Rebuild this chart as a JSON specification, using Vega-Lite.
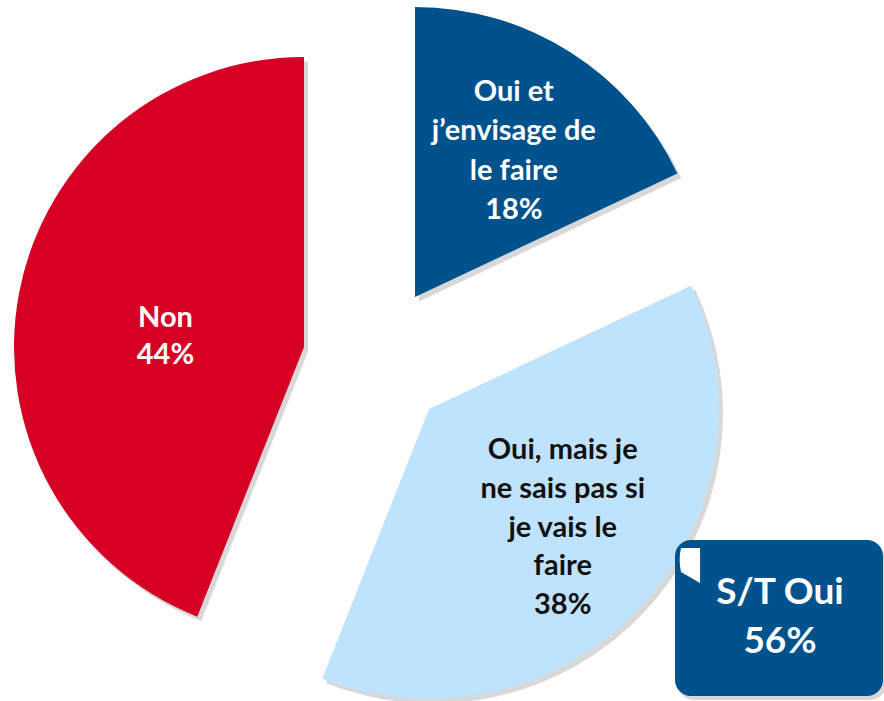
{
  "$schema": "https://vega.github.io/schema/vega-lite/v6.json",
  "width": 884,
  "height": 701,
  "autosize": {"type": "fit", "contains": "padding"},
  "padding": 0,
  "background": "white",
  "view": {"stroke": null},
  "config": {"text": {"font": "Lato", "fontWeight": "bold"}},
  "data": {
    "values": [
      {"reponse": "Oui et\nj’envisage de\nle faire", "pct": 18, "order": 1},
      {"reponse": "Oui, mais je\nne sais pas si\nje vais le\nfaire", "pct": 38, "order": 2},
      {"reponse": "Non", "pct": 44, "order": 3}
    ]
  },
  "transform": [
    {"window": [{"op": "sum", "field": "pct", "as": "end"}], "sort": [{"field": "order"}], "frame": [null, 0]},
    {"calculate": "datum.end - datum.pct", "as": "start"},
    {"calculate": "(datum.start + datum.end) / 2", "as": "mid"},
    {"calculate": "datum.reponse + '\\n' + datum.pct + '%'", "as": "label"}
  ],
  "encoding": {
    "theta": {"field": "start", "type": "quantitative", "scale": {"domain": [0, 100], "zero": true}},
    "theta2": {"field": "end"}
  },
  "layer": [
    {
      "transform": [{"filter": "datum.order == 1"}],
      "layer": [
        {"mark": {"type": "arc", "outerRadius": 290, "xOffset": -22, "yOffset": -46, "fill": "#7f7f7f", "opacity": 0.3}},
        {"mark": {"type": "arc", "outerRadius": 290, "xOffset": -26, "yOffset": -50.5},
         "encoding": {"color": {"field": "reponse", "type": "nominal", "legend": null,
           "scale": {"domain": ["Oui et\nj’envisage de\nle faire", "Oui, mais je\nne sais pas si\nje vais le\nfaire", "Non"], "range": ["#00528C", "#BFE3FC", "#D50024"]}}}}
      ]
    },
    {
      "transform": [{"filter": "datum.order == 2"}],
      "layer": [
        {"mark": {"type": "arc", "outerRadius": 290, "xOffset": -8, "yOffset": 66, "fill": "#7f7f7f", "opacity": 0.3}},
        {"mark": {"type": "arc", "outerRadius": 290, "xOffset": -12, "yOffset": 61.5},
         "encoding": {"color": {"field": "reponse", "type": "nominal", "legend": null}}}
      ]
    },
    {
      "transform": [{"filter": "datum.order == 3"}],
      "layer": [
        {"mark": {"type": "arc", "outerRadius": 290, "xOffset": -133, "yOffset": 4, "fill": "#7f7f7f", "opacity": 0.3}},
        {"mark": {"type": "arc", "outerRadius": 290, "xOffset": -137, "yOffset": -0.5},
         "encoding": {"color": {"field": "reponse", "type": "nominal", "legend": null}}}
      ]
    },
    {
      "transform": [{"filter": "datum.order == 1"}],
      "mark": {"type": "text", "xOffset": -26, "yOffset": -50.5, "radius": 177, "dx": 4, "dy": -56, "fontSize": 29, "lineHeight": 39.5, "lineBreak": "\n", "align": "center", "baseline": "middle", "fill": "white"},
      "encoding": {"theta": {"field": "mid", "type": "quantitative"}, "theta2": null, "text": {"field": "label"}}
    },
    {
      "transform": [{"filter": "datum.order == 2"}],
      "mark": {"type": "text", "xOffset": -12, "yOffset": 61.5, "radius": 167, "dx": 12, "dy": -73, "fontSize": 29, "lineHeight": 38.7, "lineBreak": "\n", "align": "center", "baseline": "middle", "fill": "#111111"},
      "encoding": {"theta": {"field": "mid", "type": "quantitative"}, "theta2": null, "text": {"field": "label"}}
    },
    {
      "transform": [{"filter": "datum.order == 3"}],
      "mark": {"type": "text", "xOffset": -137, "yOffset": -0.5, "radius": 141, "dx": 0, "dy": -3, "fontSize": 29, "lineHeight": 37, "lineBreak": "\n", "align": "center", "baseline": "middle", "fill": "white"},
      "encoding": {"theta": {"field": "mid", "type": "quantitative"}, "theta2": null, "text": {"field": "label"}}
    },
    {
      "transform": [
        {"filter": "indexof(datum.reponse, 'Oui') == 0"},
        {"aggregate": [{"op": "sum", "field": "pct", "as": "total"}]},
        {"calculate": "'S/T Oui\\n' + datum.total + '%'", "as": "callout"}
      ],
      "layer": [
        {"mark": {"type": "rect", "cornerRadius": 16, "fill": "#7f7f7f", "opacity": 0.3},
         "encoding": {"theta": null, "theta2": null, "x": {"value": 678}, "x2": {"value": 886}, "y": {"value": 544}, "y2": {"value": 700}}},
        {"mark": {"type": "rect", "cornerRadius": 16, "fill": "#00528C"},
         "encoding": {"theta": null, "theta2": null, "x": {"value": 675}, "x2": {"value": 883}, "y": {"value": 540}, "y2": {"value": 696}}},
        {"mark": {"type": "point", "filled": true, "fill": "white", "opacity": 1, "size": 1296,
                  "shape": "M -0.5 -0.94 L 0.56 -0.94 L 0.56 1 L -0.5 0.39 Q -0.65 -0.3 -0.5 -0.94 Z"},
         "encoding": {"theta": null, "theta2": null, "x": {"value": 690}, "y": {"value": 565}}},
        {"mark": {"type": "text", "fontSize": 37, "lineHeight": 49, "lineBreak": "\n", "align": "center", "baseline": "middle", "fill": "white"},
         "encoding": {"theta": null, "theta2": null, "x": {"value": 780}, "y": {"value": 593}, "text": {"field": "callout"}}}
      ]
    }
  ]
}
